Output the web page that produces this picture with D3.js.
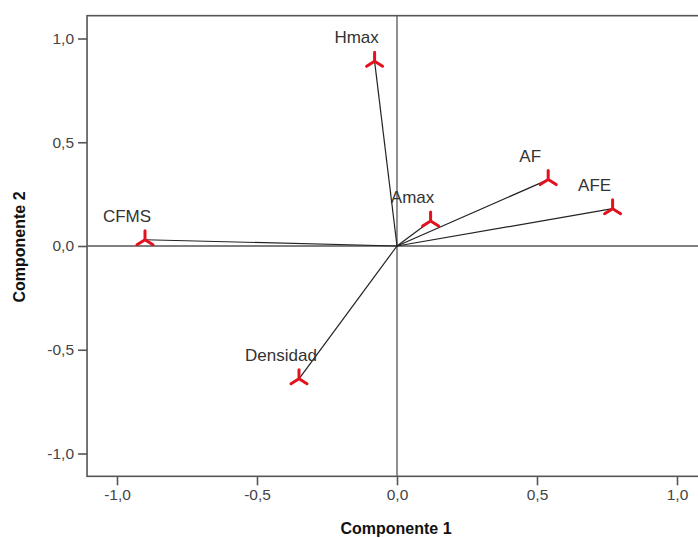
<!DOCTYPE html>
<html>
<head>
<meta charset="utf-8">
<script src="https://cdn.jsdelivr.net/npm/d3@7"></script>
<style>
  body { margin: 0; background: #fff; }
  svg text { font-family: "Liberation Sans", Arial, sans-serif; }
</style>
</head>
<body>
<svg id="chart" width="698" height="538"></svg>
<script>
// component loadings
var variables = ["Hmax", "AF", "AFE", "Amax", "CFMS", "Densidad"];
var comp1 = [-0.08, 0.54, 0.77, 0.12, -0.90, -0.35];
var comp2 = [0.89, 0.32, 0.18, 0.12, 0.03, -0.64];
var tickValues = [-1.0, -0.5, 0.0, 0.5, 1.0];

var svg = d3.select("#chart");

var x = d3.scaleLinear().domain([-1, 1]).range([117, 677]);
var y = d3.scaleLinear().domain([-1, 1]).range([453.5, 38.5]);

// plot frame edges (note: "top" is taken by window.top, so use other names)
var fLeft = x(-1.107), fRight = x(1.12), fTop = y(1.11), fBottom = y(-1.11);

var loc = d3.formatLocale({decimal: ",", thousands: ".", grouping: [3], currency: ["", ""], minus: "-"});
var fmt = loc.format(".1f");

// frame
svg.append("rect")
    .attr("x", fLeft).attr("y", fTop)
    .attr("width", fRight - fLeft).attr("height", fBottom - fTop)
    .attr("fill", "none").attr("stroke", "#555").attr("stroke-width", 1.6);

// reference lines through origin
svg.append("line")
    .attr("x1", x(0)).attr("x2", x(0)).attr("y1", fTop).attr("y2", fBottom)
    .attr("stroke", "#555").attr("stroke-width", 1.3);
svg.append("line")
    .attr("x1", fLeft).attr("x2", fRight).attr("y1", y(0)).attr("y2", y(0))
    .attr("stroke", "#555").attr("stroke-width", 1.3);

// axes
var yAxis = svg.append("g")
    .attr("transform", "translate(" + fLeft + ",0)")
    .call(d3.axisLeft(y).tickValues(tickValues).tickFormat(fmt).tickSize(9).tickSizeOuter(0).tickPadding(4));
var xAxis = svg.append("g")
    .attr("transform", "translate(0," + fBottom + ")")
    .call(d3.axisBottom(x).tickValues(tickValues).tickFormat(fmt).tickSize(9).tickSizeOuter(0).tickPadding(4));

[xAxis, yAxis].forEach(function(g) {
  g.select(".domain").remove();
  g.selectAll(".tick line").attr("stroke", "#555").attr("stroke-width", 1.6);
  g.selectAll(".tick text").attr("fill", "#444").style("font-size", "15.5px");
});

// axis titles
svg.append("text")
    .attr("x", 396).attr("y", 534)
    .attr("text-anchor", "middle")
    .style("font-size", "16px").style("font-weight", "bold").attr("fill", "#111")
    .text("Componente 1");
svg.append("text")
    .attr("transform", "translate(25,247) rotate(-90)")
    .attr("text-anchor", "middle")
    .style("font-size", "16px").style("font-weight", "bold").attr("fill", "#111")
    .text("Componente 2");

var pts = variables.map(function(v, i) { return {name: v, c1: comp1[i], c2: comp2[i]}; });

// vectors from origin
svg.append("g").selectAll("line")
  .data(pts).enter().append("line")
    .attr("x1", x(0)).attr("y1", y(0))
    .attr("x2", function(d) { return x(d.c1); })
    .attr("y2", function(d) { return y(d.c2); })
    .attr("stroke", "#222").attr("stroke-width", 1.2);

// red markers (three-armed)
svg.append("g").selectAll("path")
  .data(pts).enter().append("path")
    .attr("transform", function(d) { return "translate(" + x(d.c1) + "," + y(d.c2) + ")"; })
    .attr("d", "M0,0L0,-9M0,0L-8,5M0,0L8,5")
    .attr("fill", "none").attr("stroke", "#e3101e").attr("stroke-width", 3)
    .attr("stroke-linecap", "round");

// labels
svg.append("g").selectAll("text")
  .data(pts).enter().append("text")
    .attr("x", function(d) { return x(d.c1) - 18; })
    .attr("y", function(d) { return y(d.c2) - 18; })
    .attr("text-anchor", "middle")
    .style("font-size", "17px").attr("fill", "#333")
    .text(function(d) { return d.name; });
</script>
</body>
</html>
